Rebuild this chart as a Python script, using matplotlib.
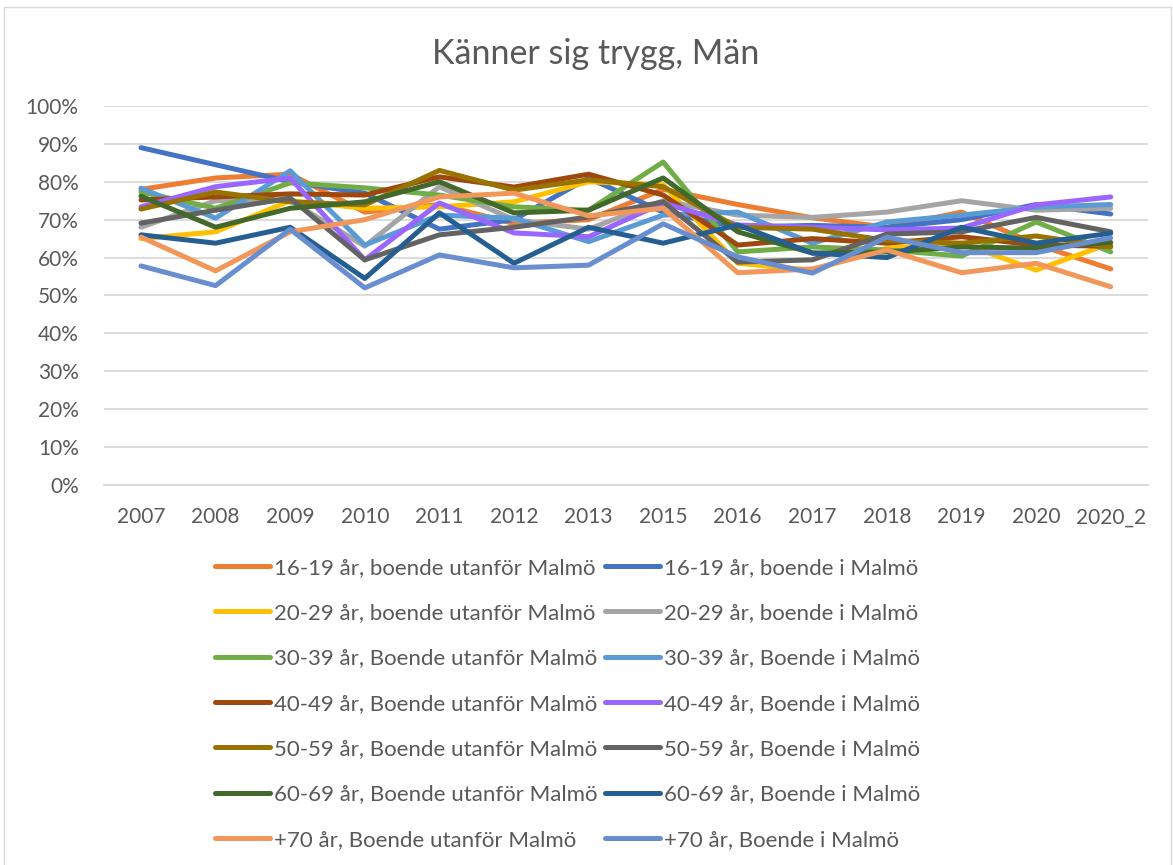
import matplotlib
matplotlib.use("Agg")
import matplotlib.pyplot as plt
from matplotlib.patches import Rectangle
from matplotlib.ticker import PercentFormatter

plt.rcParams['font.family'] = ['Lato', 'DejaVu Sans']

# Categories (survey years)
years = ['2007', '2008', '2009', '2010', '2011', '2012', '2013', '2015',
         '2016', '2017', '2018', '2019', '2020', '2020_2']

# Share feeling safe (%)
u16_19 = [78, 81, 82, 72, 74, 69, 70, 78, 74, 70.5, 68, 72, 63.5, 57]
m16_19 = [89, 84.5, 80, 77, 67.5, 70, 81, 72, 68, 68.5, 68, 70, 74, 71.5]
u20_29 = [65, 66.8, 75, 73, 73.4, 74.7, 80, 79.2, 58.5, 56.7, 62.5, 63.8, 56.7, 63.8]
m20_29 = [68, 75, 75, 63, 78.7, 70, 67.5, 75, 71.2, 70.6, 72, 75, 72.5, 73]
u30_39 = [77.3, 73, 79.7, 78.4, 76.5, 73.4, 72.5, 85.2, 61.5, 62.8, 62, 60.4, 69.4, 61.5]
m30_39 = [78.3, 70.4, 82.9, 63.3, 71.2, 70.4, 64.2, 71.2, 72, 63.8, 69.4, 71.2, 73.3, 74]
u40_49 = [75.2, 76, 76.8, 76.5, 81.3, 78.6, 82, 76.5, 63.3, 65, 63.8, 65.5, 63.3, 63]
m40_49 = [73.4, 78.7, 81, 59.4, 74.4, 66.5, 65.5, 74.4, 68.6, 68, 67.3, 67.8, 73.9, 76]
u50_59 = [72.8, 77.3, 74.7, 73.9, 83, 77.8, 80.5, 78.7, 68, 67.5, 64.5, 63.8, 65.7, 62.8]
m50_59 = [69.1, 72.5, 75.7, 59.4, 66, 68, 70.7, 74.7, 58.8, 59.4, 66.2, 66.8, 70.6, 66.8]
u60_69 = [76.2, 68, 73, 74.7, 80, 71.8, 72.5, 81, 66.8, 61.2, 61.5, 62.8, 62.5, 64]
m60_69 = [66, 63.8, 68, 54.5, 71.8, 58.5, 68, 63.8, 68.6, 61.2, 60, 68, 63.8, 66.4]
u70 = [65.4, 56.5, 66.8, 70, 76, 77, 71, 73, 56, 57, 62, 56, 58.5, 52.3]
m70 = [57.8, 52.6, 67.5, 52, 60.7, 57.3, 58, 68.9, 60.2, 55.9, 65.4, 61.3, 61.3, 65.2]

series = [
    ('16-19 år, boende utanför Malmö', u16_19, '#ED7D31'),
    ('16-19 år, boende i Malmö', m16_19, '#4472C4'),
    ('20-29 år, boende utanför Malmö', u20_29, '#FFC000'),
    ('20-29 år, boende i Malmö', m20_29, '#A5A5A5'),
    ('30-39 år, Boende utanför Malmö', u30_39, '#70AD47'),
    ('30-39 år, Boende i Malmö', m30_39, '#5B9BD5'),
    ('40-49 år, Boende utanför Malmö', u40_49, '#9E480E'),
    ('40-49 år, Boende i Malmö', m40_49, '#9966FF'),
    ('50-59 år, Boende utanför Malmö', u50_59, '#997300'),
    ('50-59 år, Boende i Malmö', m50_59, '#636363'),
    ('60-69 år, Boende utanför Malmö', u60_69, '#43682B'),
    ('60-69 år, Boende i Malmö', m60_69, '#255E91'),
    ('+70 år, Boende utanför Malmö', u70, '#F1975A'),
    ('+70 år, Boende i Malmö', m70, '#698ED0'),
]

fig = plt.figure(figsize=(11.73, 8.65), dpi=100)
ax = fig.add_axes([0.0884, 0.4393, 0.8903, 0.4382])

x = range(len(years))
handles = []
for label, vals, color in series:
    ln, = ax.plot(x, vals, color=color, lw=3.6, solid_capstyle='round',
                  solid_joinstyle='round', label=label)
    handles.append(ln)

ax.set_xlim(-0.5, len(years) - 0.5)
ax.set_ylim(0, 100)
ax.set_yticks(range(0, 101, 10))
ax.yaxis.set_major_formatter(PercentFormatter(decimals=0))
ax.set_xticks(list(x))
ax.set_xticklabels(years)
ax.grid(axis='y', color='#D9D9D9', lw=1.3)
ax.set_axisbelow(True)
for s in ['top', 'right', 'left']:
    ax.spines[s].set_visible(False)
ax.spines['bottom'].set_color('#D9D9D9')
ax.spines['bottom'].set_linewidth(1.3)
ax.tick_params(length=0, labelsize=15, labelcolor='#595959')
ax.tick_params(axis='x', pad=16)
ax.tick_params(axis='y', pad=18)

fig.text(0.508, 0.938, 'Känner sig trygg, Män', ha='center', va='center',
         fontsize=24.5, color='#595959')

# legend: left column "utanför", right column "i Malmö" (matplotlib fills column-wise)
order = list(range(0, 14, 2)) + list(range(1, 14, 2))
leg = fig.legend([handles[i] for i in order], [series[i][0] for i in order],
                 ncol=2, loc='upper left', bbox_to_anchor=(0.183, 0.355),
                 frameon=False, fontsize=16, labelcolor='#595959',
                 handlelength=2.5, handletextpad=0.15, columnspacing=0.35,
                 labelspacing=1.14, borderpad=0, borderaxespad=0)

# chart area border
fig.patches.append(Rectangle((0.0035, -0.01), 0.995, 1.002, transform=fig.transFigure,
                             fill=False, edgecolor='#D9D9D9', lw=1))

fig.savefig('out.png', dpi=100)
